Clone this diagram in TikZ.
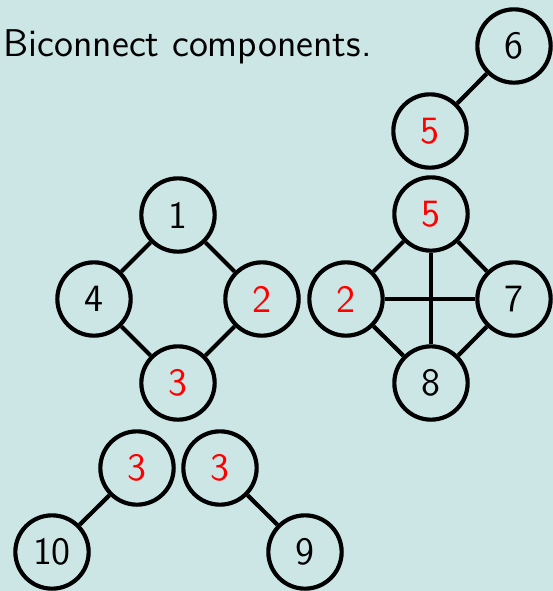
\documentclass[tikz,border=0pt]{standalone}
\begin{document}
\begin{tikzpicture}[x=0.3pt,y=-0.3pt,
  lbl/.style={font=\fontsize{11.6}{14}\selectfont\sffamily},
  vert/.style={circle,draw=black,line width=1.25pt,minimum size=22pt,inner sep=0pt,lbl},
  cut/.style={vert,text=red},
  edge/.style={line width=1.25pt,draw=black}]
\definecolor{bgc}{RGB}{204,230,230}
\fill[bgc] (0,0) rectangle (553,591);
\useasboundingbox (0,0) rectangle (553,591);
\node[anchor=base west,lbl,inner sep=0pt] (title) at (3,56) {Biconnect components.};
% top pair
\node[vert] (n6) at (514,46) {6};
\node[cut] (n5a) at (430,131) {5};
% left square
\node[vert] (n1) at (178,215) {1};
\node[vert] (n4) at (94,299) {4};
\node[cut] (n2a) at (262,299) {2};
\node[cut] (n3a) at (178,383) {3};
% right square
\node[cut] (n5b) at (431,214) {5};
\node[cut] (n2b) at (346,299) {2};
\node[vert] (n7) at (514,299) {7};
\node[vert] (n8) at (431,383) {8};
% bottom
\node[cut] (n3b) at (137,468) {3};
\node[cut] (n3c) at (220,468) {3};
\node[vert] (n10) at (52,552) {10};
\node[vert] (n9) at (305,552) {9};
\draw[edge] (n6) -- (n5a);
\draw[edge] (n1) -- (n4);
\draw[edge] (n1) -- (n2a);
\draw[edge] (n4) -- (n3a);
\draw[edge] (n2a) -- (n3a);
\draw[edge] (n5b) -- (n2b);
\draw[edge] (n5b) -- (n7);
\draw[edge] (n2b) -- (n8);
\draw[edge] (n7) -- (n8);
\draw[edge] (n5b) -- (n8);
\draw[edge] (n2b) -- (n7);
\draw[edge] (n3b) -- (n10);
\draw[edge] (n3c) -- (n9);
\end{tikzpicture}
\end{document}
